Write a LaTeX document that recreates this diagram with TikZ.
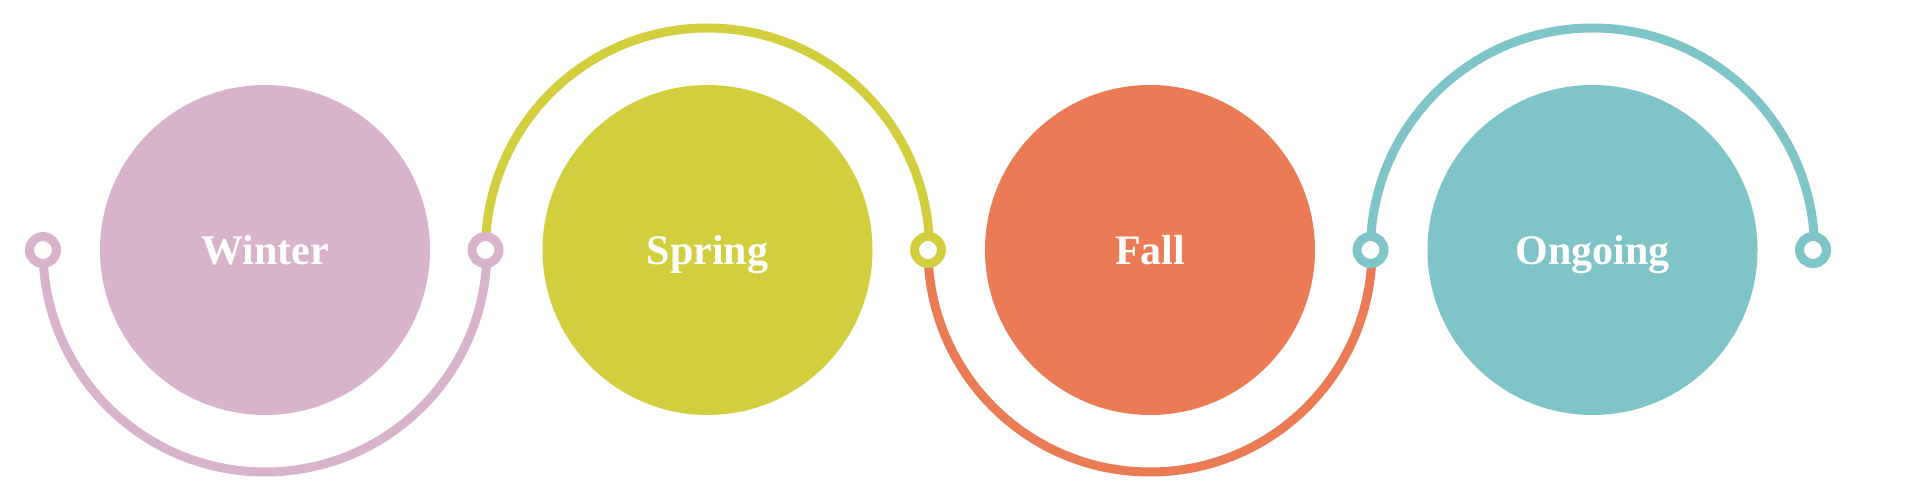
\documentclass[tikz,border=0pt]{standalone}
\usepackage{fontspec}
\setmainfont{Liberation Serif}
\definecolor{winterc}{HTML}{D8B4CC}
\definecolor{springc}{HTML}{D2CF3E}
\definecolor{fallc}{HTML}{EA7B55}
\definecolor{ongoingc}{HTML}{7FC4C6}

\begin{document}
\begin{tikzpicture}[x=1pt,y=1pt]
\pgfmathsetmacro\gap{442.5}
\pgfmathsetmacro\rad{222}
\useasboundingbox (0,0) rectangle (1920,500);

\foreach \nm/\lbl/\col [count=\i from 0] in {winter/Winter/winterc,spring/Spring/springc,fall/Fall/fallc,ongoing/Ongoing/ongoingc} {
  \node[circle,fill=\col,minimum size=330pt,inner sep=0pt] (\nm) at (265+\i*\gap,250) {};
  \node[anchor=base,text=white,font=\fontsize{42}{50}\selectfont\bfseries] (\nm-lbl) at (265+\i*\gap,235) {\lbl};
}

\foreach \i in {0,...,4} {
  \coordinate (p\i) at (265-\rad+\i*\gap,250);
}
% half rings between the stops
\draw[winterc,line width=9pt] (p0) arc[start angle=180,end angle=360,radius=\rad];
\draw[springc,line width=9pt] (p1) arc[start angle=180,end angle=0,radius=\rad];
\draw[fallc,line width=9pt] (p2) arc[start angle=180,end angle=360,radius=\rad];
\draw[ongoingc,line width=9pt] (p3) arc[start angle=180,end angle=0,radius=\rad];

\foreach \i/\col in {0/winterc,1/winterc,2/springc,3/ongoingc,4/ongoingc} {
  \node[circle,draw=\col,line width=9pt,fill=white,minimum size=27pt,inner sep=0pt] (r\i) at (p\i) {};
}
\end{tikzpicture}
\end{document}
